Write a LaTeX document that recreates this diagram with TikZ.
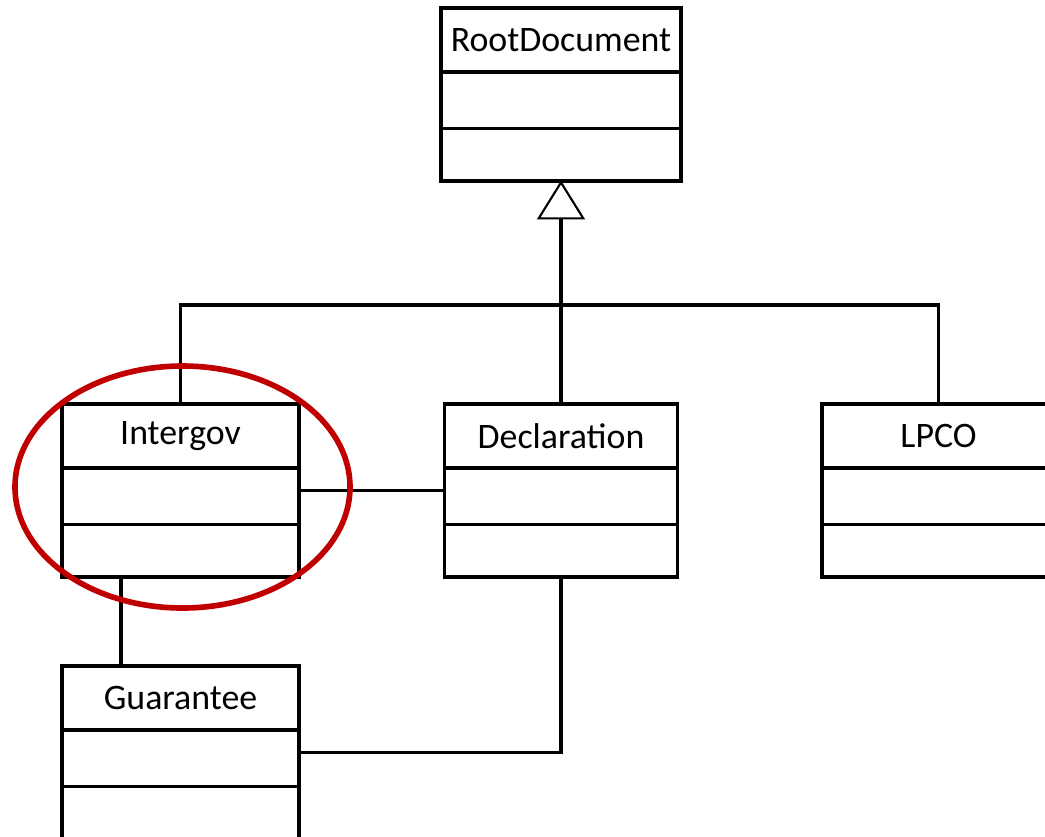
\documentclass[tikz,border=0pt]{standalone}
\usepackage{fontspec}
\setmainfont{Carlito}
\usepackage{xcolor}
\usetikzlibrary{arrows.meta}
\definecolor{markred}{HTML}{C00000}

\begin{document}
\begin{tikzpicture}[
    classbox/.style={draw, line width=0.9pt, minimum height=1.73cm, inner sep=0pt},
    classhead/.style={draw, line width=0.9pt, minimum height=0.64cm, inner sep=0pt, font=\fontsize{10.2}{12}\selectfont},
    link/.style={line width=0.9pt}]
  \useasboundingbox (0,0) rectangle (10.45,-8.36);

  \foreach \name/\x/\y/\w/\txt in {root/5.61/-0.945/2.40/RootDocument, intergov/1.805/-4.905/2.37/Intergov, declaration/5.61/-4.905/2.33/Declaration, lpco/9.385/-4.905/2.33/LPCO, guarantee/1.805/-7.525/2.37/Guarantee}{%
    \node[classbox, minimum width=\w cm] (\name) at (\x, \y) {};
    \node[classhead, minimum width=\w cm, anchor=north] (\name-head) at (\name.north) {\txt};
    \draw[link] ([yshift=0.54cm]\name.south west) -- ([yshift=0.54cm]\name.south east);
  }

  \coordinate (hub) at (5.61, -3.05);

  \draw[link, -{Triangle[open, length=0.39cm, width=0.48cm, line width=0.6pt, sep=-0.6pt]}] (declaration.north) -- (root.south);
  \draw[link] (intergov.north) |- (hub) -| (lpco.north);
  \draw[link] (intergov.east) -- (declaration.west);
  \draw[link] ([xshift=-0.595cm]intergov.south) -- ([xshift=-0.595cm]guarantee.north);
  \draw[link] (declaration.south) |- (guarantee.east);

  \draw[markred, line width=1.6pt] (1.825, -4.87) ellipse (1.675cm and 1.21cm);
\end{tikzpicture}
\end{document}
